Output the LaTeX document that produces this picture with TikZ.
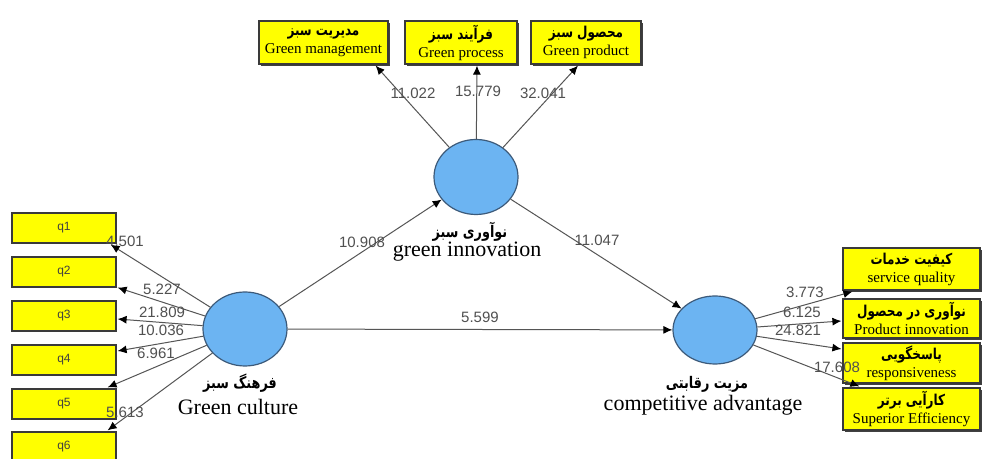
\documentclass[tikz,border=0pt]{standalone}
\usepackage{fontspec}
\setmainfont{Liberation Serif}
\newfontfamily\numfont{Liberation Sans}
\newfontfamily\farsi[Script=Arabic,FakeStretch=0.8]{DejaVu Sans}
\TeXXeTstate=1
\usetikzlibrary{arrows.meta,calc,shapes.geometric,shadows}
\definecolor{latent}{HTML}{6CB4F2}
\definecolor{latentline}{HTML}{3C5A7A}
\definecolor{itembox}{HTML}{FFFF00}
\definecolor{boxline}{HTML}{3A3A3A}
\definecolor{pathgray}{HTML}{555555}
\definecolor{numgray}{HTML}{505050}
\newcommand\faTxt[2][7.5]{{\farsi\bfseries\fontsize{#1}{#1}\selectfont\beginR #2\endR}}

\begin{document}
\begin{tikzpicture}[x=.5pt,y=-.5pt,
 item/.style={draw=boxline,fill=itembox,line width=.6pt,inner sep=1pt,align=center,
   drop shadow={shadow xshift=.8pt,shadow yshift=-.8pt,fill=black!75,opacity=1},
   font=\fontsize{7.5}{9}\selectfont},
 qbox/.style={draw=boxline,fill=itembox,line width=.6pt,minimum width=52pt,minimum height=15pt,
   inner sep=0pt,font=\numfont\fontsize{6}{7}\selectfont,text=black!75},
 latentv/.style={ellipse,draw=latentline,fill=latent,line width=.6pt,inner sep=0pt,
   minimum width=42pt},
 title/.style={font=\fontsize{11}{12}\selectfont,inner sep=0pt},
 num/.style={font=\numfont\fontsize{7.5}{8}\selectfont,text=numgray,inner sep=0pt},
 arr/.style={draw=pathgray,line width=.5pt,-{Latex[length=4.5pt,width=4pt,color=black]}}]
 \useasboundingbox[fill=white] (0,0) rectangle (982,459);
 % latent variables
 \node[latentv,minimum height=37.5pt] (gi) at (476,177) {};
 \node[latentv,minimum height=37pt] (gc) at (245,329) {};
 \node[latentv,minimum height=34pt] (ca) at (715,330) {};
 \node (giFa) at (470,232) {\faTxt[8]{نوآوری سبز}};
 \node[title] (giEn) at (467,252) {green innovation};
 \node (gcFa) at (240,383) {\faTxt[8]{فرهنگ سبز}};
 \node[title] (gcEn) at (238,407) {Green culture};
 \node (caFa) at (707,384) {\faTxt[8]{مزیت رقابتی}};
 \node[title] (caEn) at (703,405) {competitive advantage};
 % indicators of green innovation
 \node[item,minimum width=64.5pt,minimum height=21.5pt] (gm) at (323.5,42.5) {\faTxt{مدیریت سبز}\\Green management};
 \node[item,minimum width=56pt,minimum height=21.5pt] (gp) at (461,42.5) {\faTxt{فرآیند سبز}\\Green process};
 \node[item,minimum width=55pt,minimum height=21.5pt] (gd) at (586,42.5) {\faTxt{محصول سبز}\\Green product};
 % indicators of green culture
 \foreach \i/\y in {1/228,2/272,3/316,4/360,5/404,6/447}
  \node[qbox] (q\i) at (64,\y) {q\i};
 % indicators of competitive advantage
 \node[item,minimum width=68.5pt,minimum height=21pt] (sq) at (911.5,269) {\faTxt{کیفیت خدمات}\\service quality};
 \node[item,minimum width=68.5pt,minimum height=19.5pt] (pi) at (911.5,318.5) {\faTxt{نوآوری در محصول}\\Product innovation};
 \node[item,minimum width=68.5pt,minimum height=20pt] (rs) at (911.5,363) {\faTxt{پاسخگویی}\\responsiveness};
 \node[item,minimum width=68.5pt,minimum height=21pt] (se) at (911.5,409) {\faTxt{کارآیی برتر}\\Superior Efficiency};
 % arrow ends
 \coordinate (gmT) at ($(gm.south east)+(-13,1)$);
 \coordinate (gpT) at ($(gp.south)+(16,1)$);
 \coordinate (gdT) at ($(gd.south)+(-8,1)$);
 \coordinate (q1T) at ($(q1.south east)+(-6,1)$);
 \coordinate (q2T) at ($(q2.south east)+(1,0)$);
 \coordinate (q3T) at ($(q3.east)+(1,3)$);
 \coordinate (q4T) at ($(q4.east)+(1,-9)$);
 \coordinate (q5T) at ($(q5.north east)+(-9,-1)$);
 \coordinate (q6T) at ($(q6.north east)+(-9,-1)$);
 \coordinate (sqT) at ($(sq.south west)+(10,1)$);
 \coordinate (piT) at ($(pi.west)+(-1,2.5)$);
 \coordinate (rsT) at ($(rs.west)+(-1,-14)$);
 \coordinate (seT) at ($(se.north west)+(17,-1)$);
 % connectors
 \draw[arr] (gi)--(gmT);
 \draw[arr] (gi)--(gpT);
 \draw[arr] (gi)--(gdT);
 \foreach \i in {1,...,6}
  \draw[arr] (gc)--(q\i T);
 \draw[arr] (ca)--(sqT);
 \draw[arr] (ca)--(piT);
 \draw[arr] (ca)--(rsT);
 \draw[arr] (ca)--(seT);
 \draw[arr] (gc)--(gi);
 \draw[arr] (gi)--(ca);
 \draw[arr] (gc)--(ca);
 % t values
 \node[num] (vgm) at (413,93) {11.022};
 \node[num] (vgp) at (478,91) {15.779};
 \node[num] (vgd) at (543,93) {32.041};
 \node[num] (vq1) at (125,241) {4.501};
 \node[num] (vq2) at (162,289) {5.227};
 \node[num] (vq3) at (162,312) {21.809};
 \node[num] (vq4) at (161,330) {10.036};
 \node[num] (vq5) at (156,353) {6.961};
 \node[num] (vq6) at (125,412) {5.613};
 \node[num] (vsq) at (805,292) {3.773};
 \node[num] (vpi) at (802,312) {6.125};
 \node[num] (vrs) at (798,330) {24.821};
 \node[num] (vse) at (837,367) {17.608};
 \node[num] (vgi) at (362,242) {10.908};
 \node[num] (vca) at (597,240) {11.047};
 \node[num] (vcc) at (480,317) {5.599};
\end{tikzpicture}
\end{document}
